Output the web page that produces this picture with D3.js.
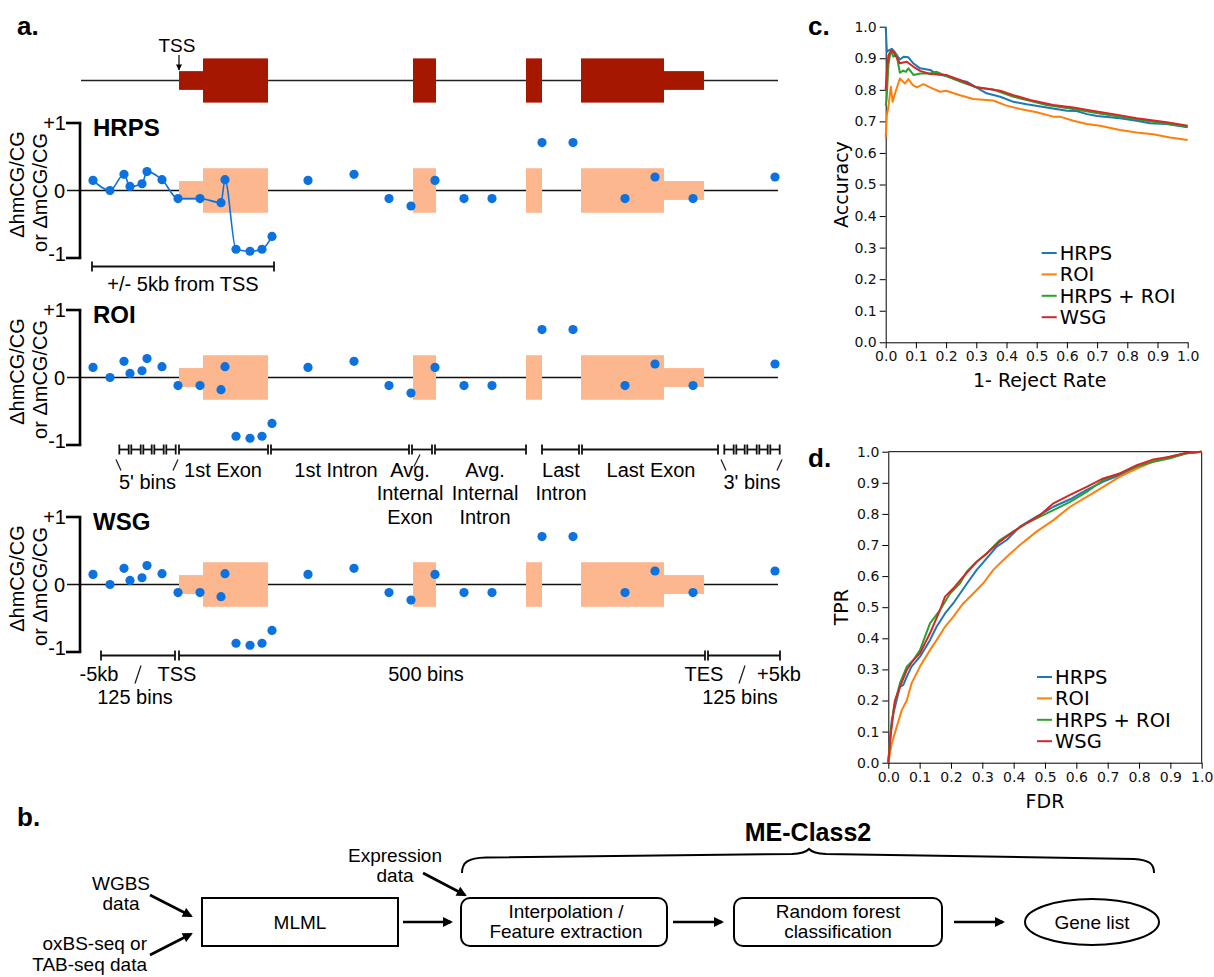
<!DOCTYPE html>
<html>
<head>
<meta charset="utf-8">
<script src="https://cdn.jsdelivr.net/npm/d3@7"></script>
<style>
  body { margin: 0; background: #fff; }
  svg { display: block; }
</style>
</head>
<body>
<div id="chart"></div>
<script>
// ---------- panel a: schematic gene coordinates (0 = left end of the track) ----------
const binPos = [12, 29, 43, 49, 61, 66, 81, 97, 119, 140, 144, 155, 169, 181, 191,
  227, 273, 308, 330, 354, 383, 411, 461, 492, 544, 574, 612, 694];
const deltaVals = [0.15, 0, 0.24, 0.06, 0.10, 0.28, 0.16, -0.12, -0.12, -0.18, 0.16,
  -0.87, -0.90, -0.87, -0.68, 0.15, 0.24, -0.12, -0.23, 0.15, -0.12, -0.12, 0.71, 0.71,
  -0.12, 0.20, -0.12, 0.20];
const tssWindowCount = 15; // first bins fall in +/- 5kb of TSS
const geneParts = [
  { start: 98, end: 122, kind: "utr" },
  { start: 122, end: 187, kind: "cds" },
  { start: 332, end: 355, kind: "cds" },
  { start: 445, end: 461, kind: "cds" },
  { start: 500, end: 583, kind: "cds" },
  { start: 583, end: 623, kind: "utr" }
];
const trackEnd = 697;
const tssPos = 98;
const profileNames = ["HRPS", "ROI", "WSG"];
const tssWindow = { start: 11, end: 193, label: "+/- 5kb from TSS" };
const fivePrimeEdges = [37, 49, 61, 72, 84, 96];
const threePrimeEdges = [642, 654, 665, 677, 688, 700];
const roiRegions = [
  { lines: ["1st Exon"], start: 98, end: 187, at: 142 },
  { lines: ["1st Intron"], start: 190, end: 328, at: 255 },
  { lines: ["Avg.", "Internal", "Exon"], start: 331, end: 351, at: 329 },
  { lines: ["Avg.", "Internal", "Intron"], start: 354, end: 445, at: 404 },
  { lines: ["Last", "Intron"], start: 461, end: 498, at: 480 },
  { lines: ["Last Exon"], start: 501, end: 637, at: 570 }
];
const wsgRegions = [
  { start: 20, end: 94 },
  { start: 98, end: 624 },
  { start: 627, end: 699 }
];
const wsgLabels = [
  { text: "-5kb", at: 18, row: 0 }, { text: "TSS", at: 96, row: 0 },
  { text: "125 bins", at: 54, row: 1 }, { text: "500 bins", at: 345, row: 0 },
  { text: "TES", at: 623, row: 0 }, { text: "+5kb", at: 698, row: 0 },
  { text: "125 bins", at: 659, row: 1 }
];
const wsgSlashes = [57, 661];

// ---------- panel c: accuracy vs 1 - reject rate ----------
const seriesNames = ["HRPS", "ROI", "HRPS + ROI", "WSG"];
const accHRPS = [[0, 1.0], [0.004, 0.92], [0.01, 0.925], [0.02, 0.93], [0.03, 0.92], [0.047, 0.896],
  [0.06, 0.905], [0.075, 0.903], [0.09, 0.885], [0.114, 0.868], [0.147, 0.863], [0.17, 0.85],
  [0.2, 0.844], [0.235, 0.832], [0.268, 0.826], [0.3, 0.808], [0.334, 0.789], [0.379, 0.778],
  [0.423, 0.762], [0.467, 0.754], [0.533, 0.744], [0.6, 0.734], [0.632, 0.733], [0.666, 0.723],
  [0.7, 0.717], [0.776, 0.71], [0.831, 0.702], [0.875, 0.694], [0.93, 0.692], [1.0, 0.681]];
const accROI = [[0, 0.65], [0.004, 0.72], [0.009, 0.747], [0.017, 0.81], [0.023, 0.762], [0.031, 0.789],
  [0.047, 0.836], [0.064, 0.82], [0.075, 0.834], [0.09, 0.815], [0.103, 0.808], [0.125, 0.818],
  [0.147, 0.808], [0.18, 0.794], [0.2, 0.797], [0.246, 0.783], [0.29, 0.771], [0.356, 0.766],
  [0.4, 0.75], [0.445, 0.739], [0.5, 0.729], [0.555, 0.715], [0.577, 0.715], [0.621, 0.702],
  [0.666, 0.692], [0.71, 0.686], [0.776, 0.673], [0.831, 0.665], [0.886, 0.659], [0.941, 0.649],
  [1.0, 0.641]];
const accBoth = [[0, 0.75], [0.003, 0.77], [0.009, 0.879], [0.017, 0.926], [0.025, 0.905], [0.036, 0.91],
  [0.047, 0.854], [0.058, 0.861], [0.067, 0.857], [0.075, 0.868], [0.092, 0.847], [0.114, 0.852],
  [0.147, 0.852], [0.169, 0.857], [0.2, 0.844], [0.246, 0.826], [0.3, 0.808], [0.356, 0.801],
  [0.423, 0.778], [0.467, 0.768], [0.533, 0.752], [0.61, 0.741], [0.688, 0.728], [0.776, 0.715],
  [0.886, 0.699], [1.0, 0.683]];
const accWSG = [[0, 0.8], [0.004, 0.86], [0.009, 0.91], [0.02, 0.926], [0.028, 0.916], [0.047, 0.884],
  [0.07, 0.889], [0.092, 0.873], [0.114, 0.86], [0.147, 0.85], [0.2, 0.847], [0.246, 0.831],
  [0.3, 0.808], [0.379, 0.797], [0.423, 0.783], [0.478, 0.768], [0.555, 0.752], [0.621, 0.744],
  [0.688, 0.733], [0.754, 0.723], [0.831, 0.71], [0.93, 0.697], [1.0, 0.686]];

// ---------- panel d: TPR vs FDR ----------
const rocHRPS = [[0, 0], [0.011, 0.137], [0.024, 0.19], [0.037, 0.244], [0.048, 0.25], [0.059, 0.277],
  [0.074, 0.309], [0.101, 0.341], [0.133, 0.394], [0.154, 0.437], [0.181, 0.48], [0.207, 0.512],
  [0.229, 0.544], [0.255, 0.582], [0.282, 0.62], [0.314, 0.657], [0.346, 0.695], [0.378, 0.716],
  [0.42, 0.759], [0.473, 0.791], [0.527, 0.823], [0.58, 0.847], [0.633, 0.877], [0.686, 0.904],
  [0.739, 0.925], [0.793, 0.952], [0.846, 0.968], [0.899, 0.984], [0.952, 0.995], [1, 1]];
const rocROI = [[0, 0], [0.011, 0.062], [0.027, 0.116], [0.043, 0.169], [0.059, 0.2], [0.074, 0.255],
  [0.101, 0.309], [0.133, 0.362], [0.154, 0.394], [0.181, 0.437], [0.207, 0.469], [0.239, 0.512],
  [0.271, 0.544], [0.303, 0.577], [0.335, 0.62], [0.378, 0.662], [0.42, 0.7], [0.473, 0.743],
  [0.527, 0.78], [0.58, 0.823], [0.633, 0.855], [0.686, 0.887], [0.739, 0.92], [0.793, 0.946],
  [0.846, 0.968], [0.899, 0.982], [0.952, 0.995], [1, 1]];
const rocBoth = [[0, 0], [0.007, 0.094], [0.018, 0.18], [0.037, 0.255], [0.059, 0.309], [0.08, 0.33],
  [0.101, 0.362], [0.133, 0.448], [0.165, 0.491], [0.197, 0.544], [0.229, 0.577], [0.25, 0.614],
  [0.282, 0.646], [0.314, 0.673], [0.356, 0.716], [0.399, 0.743], [0.441, 0.77], [0.484, 0.791],
  [0.527, 0.812], [0.58, 0.839], [0.633, 0.871], [0.686, 0.909], [0.739, 0.93], [0.793, 0.952],
  [0.846, 0.968], [0.899, 0.979], [0.952, 0.995], [1, 1]];
const rocWSG = [[0, 0], [0.007, 0.084], [0.021, 0.2], [0.037, 0.244], [0.059, 0.298], [0.08, 0.33],
  [0.101, 0.352], [0.133, 0.416], [0.165, 0.491], [0.181, 0.534], [0.207, 0.56], [0.239, 0.598],
  [0.282, 0.646], [0.314, 0.673], [0.356, 0.711], [0.399, 0.743], [0.441, 0.77], [0.484, 0.796],
  [0.527, 0.834], [0.58, 0.861], [0.633, 0.887], [0.686, 0.914], [0.739, 0.93], [0.793, 0.957],
  [0.846, 0.975], [0.899, 0.984], [0.952, 0.997], [1, 1]];
const axisTicks = [0, 0.1, 0.2, 0.3, 0.4, 0.5, 0.6, 0.7, 0.8, 0.9, 1.0];

// ---------- panel b: pipeline text ----------
const inputLabels = [["WGBS", "data"], ["oxBS-seq or", "TAB-seq data"]];
const exprLabel = ["Expression", "data"];
const stepLabels = [["MLML"], ["Interpolation /", "Feature extraction"], ["Random forest", "classification"], ["Gene list"]];
const braceLabel = "ME-Class2";

// ---------- drawing ----------
const W = 1214, H = 977;
const fontA = "'Liberation Sans', Arial, sans-serif";
const fontC = "'DejaVu Sans', sans-serif";
const darkRed = "#a61700", peach = "#fdb78e", dotBlue = "#0b72e0";
const lineColors = ["#1f77b4", "#ff7f0e", "#2ca02c", "#d62728"];
const halfHeight = { cds: 0.33, utr: 0.14 };

const svg = d3.select("#chart").append("svg").attr("width", W).attr("height", H)
  .style("font-family", fontA);
svg.append("rect").attr("width", W).attr("height", H).attr("fill", "#fff");

const defs = svg.append("defs");
defs.append("marker").attr("id", "arrow").attr("viewBox", "0 0 10 10")
  .attr("refX", 8).attr("refY", 5).attr("markerWidth", 13).attr("markerHeight", 10)
  .attr("markerUnits", "userSpaceOnUse").attr("orient", "auto")
  .append("path").attr("d", "M0,0 L10,5 L0,10 z").attr("fill", "#000");
defs.append("marker").attr("id", "arrowSmall").attr("viewBox", "0 0 10 10")
  .attr("refX", 9).attr("refY", 5).attr("markerWidth", 7).attr("markerHeight", 6)
  .attr("markerUnits", "userSpaceOnUse").attr("orient", "auto")
  .append("path").attr("d", "M0,0 L10,5 L0,10 z").attr("fill", "#000");

function panelLabel(t, x, y) {
  svg.append("text").attr("x", x).attr("y", y).attr("font-size", 26)
    .attr("font-weight", "bold").text(t);
}
panelLabel("a.", 17, 35);
panelLabel("b.", 17, 826);
panelLabel("c.", 808, 35);
panelLabel("d.", 808, 467);

const xs = d3.scaleLinear().domain([0, 700]).range([81, 781]);

// gene model
const trackY = d3.scaleLinear().domain([-1, 1]).range([80.5 + 67, 80.5 - 67]);
const gTrack = svg.append("g");
gTrack.append("line").attr("x1", xs(0)).attr("x2", xs(trackEnd))
  .attr("y1", trackY(0)).attr("y2", trackY(0)).attr("stroke", "#222").attr("stroke-width", 1.6);
gTrack.selectAll("rect").data(geneParts).join("rect")
  .attr("x", d => xs(d.start)).attr("width", d => xs(d.end) - xs(d.start))
  .attr("y", d => trackY(halfHeight[d.kind])).attr("height", d => trackY(-halfHeight[d.kind]) - trackY(halfHeight[d.kind]))
  .attr("fill", darkRed);
gTrack.append("text").attr("x", xs(tssPos) - 2).attr("y", 52).attr("text-anchor", "middle")
  .attr("font-size", 19).text("TSS");
gTrack.append("line").attr("x1", xs(tssPos)).attr("x2", xs(tssPos)).attr("y1", 55).attr("y2", 70)
  .attr("stroke", "#000").attr("stroke-width", 1.2).attr("marker-end", "url(#arrowSmall)");

// three profile panels
const zeros = [191, 378, 585];
const points = binPos.map((p, i) => ({ x: p, v: deltaVals[i] }));

function segment(g, a, b, y) {
  g.append("line").attr("x1", xs(a)).attr("x2", xs(b)).attr("y1", y).attr("y2", y)
    .attr("stroke", "#111").attr("stroke-width", 1.8);
  [a, b].forEach(p => g.append("line").attr("x1", xs(p)).attr("x2", xs(p))
    .attr("y1", y - 5).attr("y2", y + 5).attr("stroke", "#111").attr("stroke-width", 1.8));
}
function slash(g, x1, y1, x2, y2) {
  g.append("line").attr("x1", x1).attr("y1", y1).attr("x2", x2).attr("y2", y2)
    .attr("stroke", "#222").attr("stroke-width", 1.3);
}

profileNames.forEach((name, k) => {
  const z = zeros[k];
  const y = d3.scaleLinear().domain([-1, 1]).range([z + 67, z - 68]);
  const g = svg.append("g");

  g.append("line").attr("x1", 67).attr("x2", xs(trackEnd)).attr("y1", y(0)).attr("y2", y(0))
    .attr("stroke", "#111").attr("stroke-width", 1.6);
  g.selectAll("rect.part").data(geneParts).join("rect").attr("class", "part")
    .attr("x", d => xs(d.start)).attr("width", d => xs(d.end) - xs(d.start))
    .attr("y", d => y(halfHeight[d.kind])).attr("height", d => y(-halfHeight[d.kind]) - y(halfHeight[d.kind]))
    .attr("fill", peach);

  // axis
  g.append("line").attr("x1", 80).attr("x2", 80).attr("y1", y(1)).attr("y2", y(-1))
    .attr("stroke", "#000").attr("stroke-width", 2.6);
  [1, -1].forEach(t => g.append("line").attr("x1", 66).attr("x2", 81.3).attr("y1", y(t)).attr("y2", y(t))
    .attr("stroke", "#000").attr("stroke-width", 2.6));
  g.append("text").attr("x", 66).attr("y", y(1) + 7).attr("text-anchor", "end").attr("font-size", 20).text("+1");
  g.append("text").attr("x", 65).attr("y", y(0) + 7).attr("text-anchor", "end").attr("font-size", 20).text("0");
  g.append("text").attr("x", 66).attr("y", y(-1) + 3).attr("text-anchor", "end").attr("font-size", 20).text("-1");
  g.append("text").attr("transform", `translate(24,${y(0) - 6}) rotate(-90)`).attr("text-anchor", "middle")
    .attr("font-size", 20).text("ΔhmCG/CG");
  g.append("text").attr("transform", `translate(47,${y(0) + 2}) rotate(-90)`).attr("text-anchor", "middle")
    .attr("font-size", 20).text("or ΔmCG/CG");
  g.append("text").attr("x", 93).attr("y", y(0) - 55).attr("font-size", 24).attr("font-weight", "bold").text(name);

  if (k === 0) {
    const line = d3.line().x(d => xs(d.x)).y(d => y(d.v)).curve(d3.curveMonotoneX);
    g.append("path").datum(points.slice(0, tssWindowCount)).attr("d", line)
      .attr("fill", "none").attr("stroke", dotBlue).attr("stroke-width", 1.6);
    const yb = y(0) + 76;
    segment(g, tssWindow.start, tssWindow.end, yb);
    g.append("text").attr("x", xs((tssWindow.start + tssWindow.end) / 2)).attr("y", yb + 24)
      .attr("text-anchor", "middle").attr("font-size", 20).text(tssWindow.label);
  }

  g.selectAll("circle").data(points).join("circle")
    .attr("cx", d => xs(d.x)).attr("cy", d => y(d.v)).attr("r", 4.6).attr("fill", dotBlue);

  if (k === 1) {
    const yb = y(0) + 72;
    [fivePrimeEdges, threePrimeEdges].forEach((edges, side) => {
      d3.pairs(edges).forEach(([a, b]) => segment(g, a + 1.3, b - 1.3, yb));
      const a = edges[0], b = edges[edges.length - 1];
      slash(g, xs(a) - 2, yb + 10, xs(a) + 3, yb + 21);
      slash(g, xs(b) + 1, yb + 10, xs(b) - 4, yb + 21);
      g.append("text").attr("x", xs((a + b) / 2)).attr("y", yb + 39).attr("text-anchor", "middle")
        .attr("font-size", 20).text(side === 0 ? "5' bins" : "3' bins");
    });
    roiRegions.forEach(r => {
      segment(g, r.start, r.end, yb);
      r.lines.forEach((t, i) => g.append("text").attr("x", xs(r.at)).attr("y", yb + 27 + i * 23.5)
        .attr("text-anchor", "middle").attr("font-size", 20).text(t));
    });
    const aie = roiRegions[2];
    slash(g, xs(aie.start) + 8, yb + 5, xs(aie.start) + 2, yb + 17);
  }

  if (k === 2) {
    const yb = y(0) + 71;
    wsgRegions.forEach(r => segment(g, r.start, r.end, yb));
    wsgLabels.forEach(l => g.append("text").attr("x", xs(l.at)).attr("y", yb + 25 + l.row * 23)
      .attr("text-anchor", "middle").attr("font-size", 20).text(l.text));
    wsgSlashes.forEach(p => slash(g, xs(p) + 3, yb + 10, xs(p) - 3, yb + 28));
  }
});

// ---------- panels c & d ----------
function curvePanel(opts) {
  const g = svg.append("g").style("font-family", fontC);
  const x = d3.scaleLinear().domain([0, 1]).range(opts.xr);
  const y = d3.scaleLinear().domain([0, 1]).range(opts.yr);
  const fmt = d3.format(".1f");
  const ax = g.append("g").attr("transform", `translate(0,${y(0)})`)
    .call(d3.axisBottom(x).tickValues(axisTicks).tickFormat(fmt).tickSize(6).tickPadding(3).tickSizeOuter(0));
  const ay = g.append("g").attr("transform", `translate(${x(0)},0)`)
    .call(d3.axisLeft(y).tickValues(axisTicks).tickFormat(fmt).tickSize(6).tickPadding(3).tickSizeOuter(0));
  [ax, ay].forEach(a => {
    a.selectAll("text").attr("font-size", 14).attr("font-family", fontC).attr("fill", "#111");
    a.selectAll("line,path").attr("stroke", "#000").attr("stroke-width", 1);
  });
  if (opts.box) {
    g.append("path").attr("d", `M${x(0)},${y(1)}H${x(1)}V${y(0)}`).attr("fill", "none")
      .attr("stroke", "#000").attr("stroke-width", 1);
  }
  const line = d3.line().x(d => x(d[0])).y(d => y(d[1]));
  opts.series.forEach((s, i) => g.append("path").datum(s).attr("d", line).attr("fill", "none")
    .attr("stroke", lineColors[i]).attr("stroke-width", 2).attr("stroke-linejoin", "round"));
  g.append("text").attr("x", (opts.xr[0] + opts.xr[1]) / 2 + opts.xlabDx).attr("y", y(0) + 45)
    .attr("text-anchor", "middle").attr("font-size", 19).text(opts.xlab);
  g.append("text").attr("transform", `translate(848,${(opts.yr[0] + opts.yr[1]) / 2}) rotate(-90)`)
    .attr("text-anchor", "middle").attr("font-size", 19).text(opts.ylab);
  const leg = g.append("g").attr("transform", `translate(${opts.legX},${opts.legY})`);
  seriesNames.forEach((n, i) => {
    leg.append("line").attr("x1", 0).attr("x2", 15).attr("y1", i * 21.4).attr("y2", i * 21.4)
      .attr("stroke", lineColors[i]).attr("stroke-width", 2);
    leg.append("text").attr("x", 18).attr("y", i * 21.4 + 7).attr("font-size", 19.5).text(n);
  });
}
curvePanel({ xr: [885.7, 1187.7], yr: [342.3, 26.7], box: false, series: [accHRPS, accROI, accBoth, accWSG],
  xlab: "1- Reject Rate", xlabDx: 3, ylab: "Accuracy", legX: 1041.7, legY: 253 });
curvePanel({ xr: [888.3, 1201.7], yr: [762.7, 451.7], box: true, series: [rocHRPS, rocROI, rocBoth, rocWSG],
  xlab: "FDR", xlabDx: 0, ylab: "TPR", legX: 1037, legY: 677 });

// ---------- panel b ----------
const gb = svg.append("g").attr("font-size", 19);
function arrow(x1, y1, x2, y2) {
  gb.append("line").attr("x1", x1).attr("y1", y1).attr("x2", x2).attr("y2", y2)
    .attr("stroke", "#000").attr("stroke-width", 2.6).attr("marker-end", "url(#arrow)");
}
function lines(t, x, y0, anchor, step) {
  t.forEach((s, i) => gb.append("text").attr("x", x).attr("y", y0 + i * (step || 20)).attr("text-anchor", anchor).text(s));
}
lines(inputLabels[0], 121, 890, "middle");
lines(inputLabels[1], 147, 950, "end", 20.5);
lines(exprLabel, 395, 862, "middle");
arrow(150, 895, 191, 916);
arrow(150, 955, 191, 934);
arrow(423, 873, 465, 895);

gb.append("rect").attr("x", 202).attr("y", 898).attr("width", 196).attr("height", 48)
  .attr("fill", "none").attr("stroke", "#000").attr("stroke-width", 2);
lines(stepLabels[0], 300, 929, "middle");
arrow(403, 922, 451, 922);
gb.append("rect").attr("x", 461).attr("y", 898).attr("width", 206).attr("height", 48).attr("rx", 9)
  .attr("fill", "none").attr("stroke", "#000").attr("stroke-width", 2);
lines(stepLabels[1], 566, 918, "middle");
arrow(673, 922, 722, 922);
gb.append("rect").attr("x", 734).attr("y", 898).attr("width", 208).attr("height", 48).attr("rx", 9)
  .attr("fill", "none").attr("stroke", "#000").attr("stroke-width", 2);
lines(stepLabels[2], 838, 918, "middle");
arrow(954, 922, 1003, 922);
gb.append("ellipse").attr("cx", 1092).attr("cy", 922).attr("rx", 67).attr("ry", 23)
  .attr("fill", "none").attr("stroke", "#000").attr("stroke-width", 2);
lines(stepLabels[3], 1092, 929, "middle");

gb.append("path")
  .attr("d", "M462,873 C462,862 468,858 486,857.5 L792,854 Q805,853.5 809,849 Q813,853.5 826,854 L1134,859 C1150,860 1154,864 1154,873")
  .attr("fill", "none").attr("stroke", "#000").attr("stroke-width", 2);
gb.append("text").attr("x", 808).attr("y", 841).attr("text-anchor", "middle").attr("font-size", 25)
  .attr("font-weight", "bold").text(braceLabel);
</script>
</body>
</html>
